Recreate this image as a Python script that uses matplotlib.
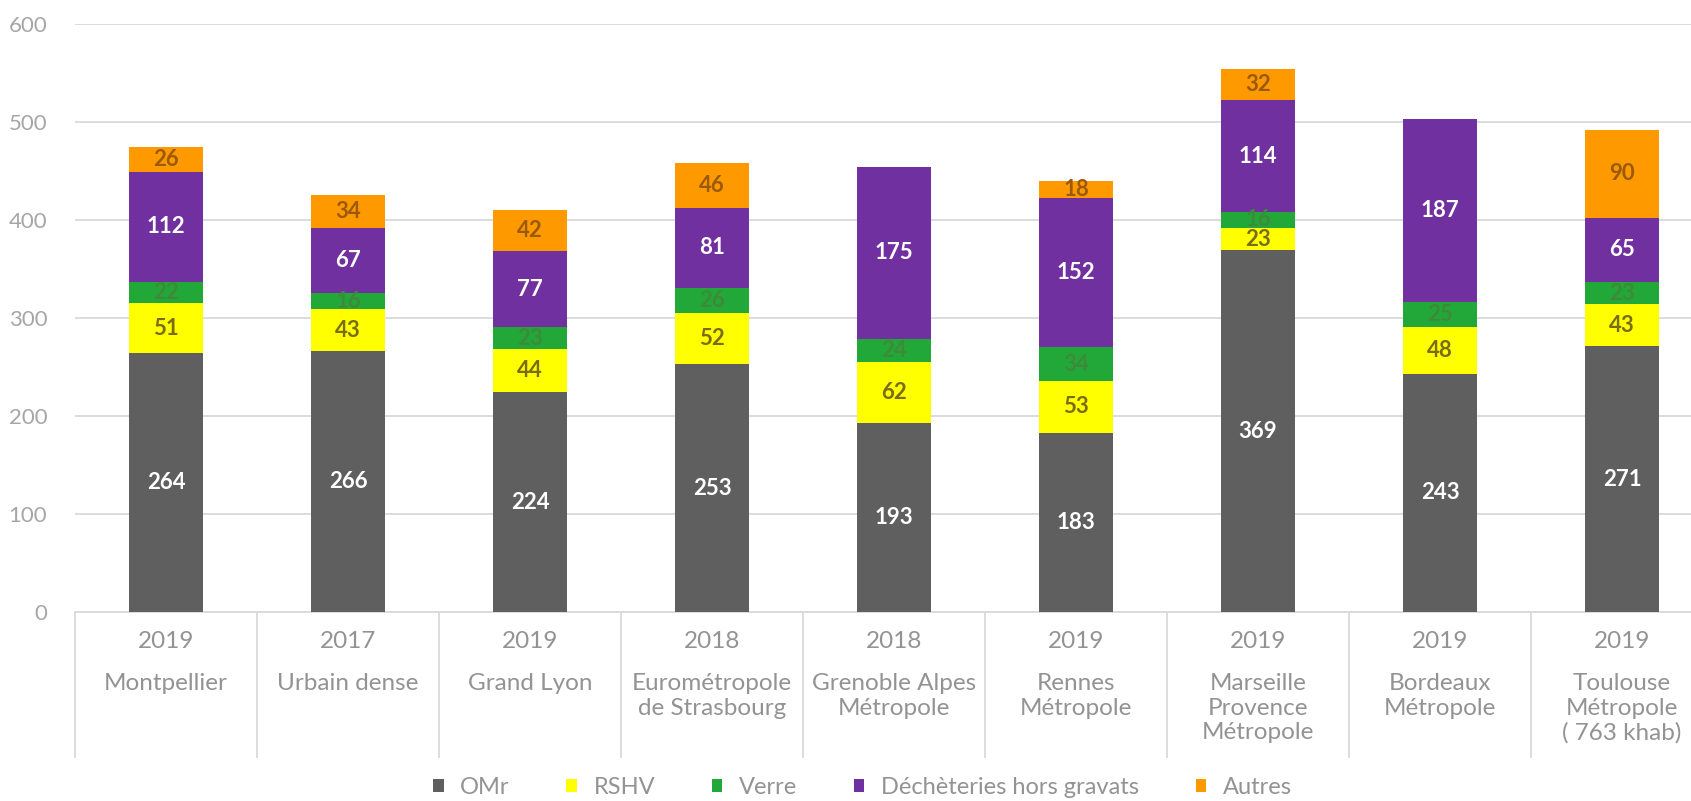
import numpy as np
import matplotlib.pyplot as plt
from matplotlib.patches import Patch

years = ["2019", "2017", "2019", "2018", "2018", "2019", "2019", "2019", "2019"]
names = ["Montpellier", "Urbain dense", "Grand Lyon", "Eurométropole\nde Strasbourg",
         "Grenoble Alpes\nMétropole", "Rennes\nMétropole",
         "Marseille\nProvence\nMétropole", "Bordeaux\nMétropole",
         "Toulouse\nMétropole\n( 763 khab)"]

omr = [264, 266, 224, 253, 193, 183, 369, 243, 271]
rshv = [51, 43, 44, 52, 62, 53, 23, 48, 43]
verre = [22, 16, 23, 26, 24, 34, 16, 25, 23]
decheteries = [112, 67, 77, 81, 175, 152, 114, 187, 65]
autres = [26, 34, 42, 46, 0, 18, 32, 0, 90]

series = [
    ("OMr", omr, "#5f5f5f", "white"),
    ("RSHV", rshv, "#ffff00", "#7a6c10"),
    ("Verre", verre, "#22a838", "#3f8a3a"),
    ("Déchèteries hors gravats", decheteries, "#7030a0", "white"),
    ("Autres", autres, "#ff9900", "#9a5a08"),
]

plt.rcParams["font.family"] = ["Lato", "DejaVu Sans"]

fig = plt.figure(figsize=(16.91, 8.01), dpi=100)
ax = fig.add_axes([75 / 1691, 189 / 801, 1616 / 1691, 588 / 801])

x = np.arange(len(omr))
bottom = np.zeros(len(omr))
handles = []
for label, vals, color, tcolor in series:
    vals = np.array(vals, dtype=float)
    ax.bar(x, vals, width=0.41, bottom=bottom, color=color, zorder=3)
    for xi, b, v in zip(x, bottom, vals):
        if v > 0:
            ax.text(xi, b + v / 2, f"{int(v)}", ha="center", va="center",
                    color=tcolor, fontsize=16, fontweight="bold", zorder=4)
    bottom += vals
    handles.append(Patch(facecolor=color, label=label))

ax.set_xlim(-0.5, -0.5 + 1616 / 182)
ax.set_ylim(0, 600)
ax.set_yticks(range(0, 601, 100))
ax.yaxis.grid(True, color="#d9d9d9", linewidth=1.3, zorder=0)
ax.tick_params(axis="y", length=0, pad=20, labelsize=16, labelcolor="#a6a6a6")
ax.set_xticks([])
for side in ["left", "right", "top"]:
    ax.spines[side].set_visible(False)
ax.spines["bottom"].set_color("#d9d9d9")
ax.spines["bottom"].set_linewidth(1.3)

tr = ax.get_xaxis_transform()
for xi, yr, nm in zip(x, years, names):
    ax.text(xi, -0.051, yr, transform=tr, ha="center", va="center",
            fontsize=17.5, color="#939393")
    ax.text(xi, -0.104, nm, transform=tr, ha="center", va="top",
            fontsize=17.5, color="#939393", linespacing=1.2)
for xs in np.arange(-0.5, len(omr), 1.0):
    ax.plot([xs, xs], [0, -0.247], transform=tr, color="#d9d9d9",
            linewidth=1.3, clip_on=False)

fig.legend(handles=handles, loc="center", bbox_to_anchor=(0.51, 0.017), ncol=5,
           frameon=False, handlelength=0.45, handleheight=0.45, handletextpad=0.7,
           columnspacing=2.4, prop={"size": 17}, labelcolor="#939393")

fig.savefig("out.png", dpi=100)
